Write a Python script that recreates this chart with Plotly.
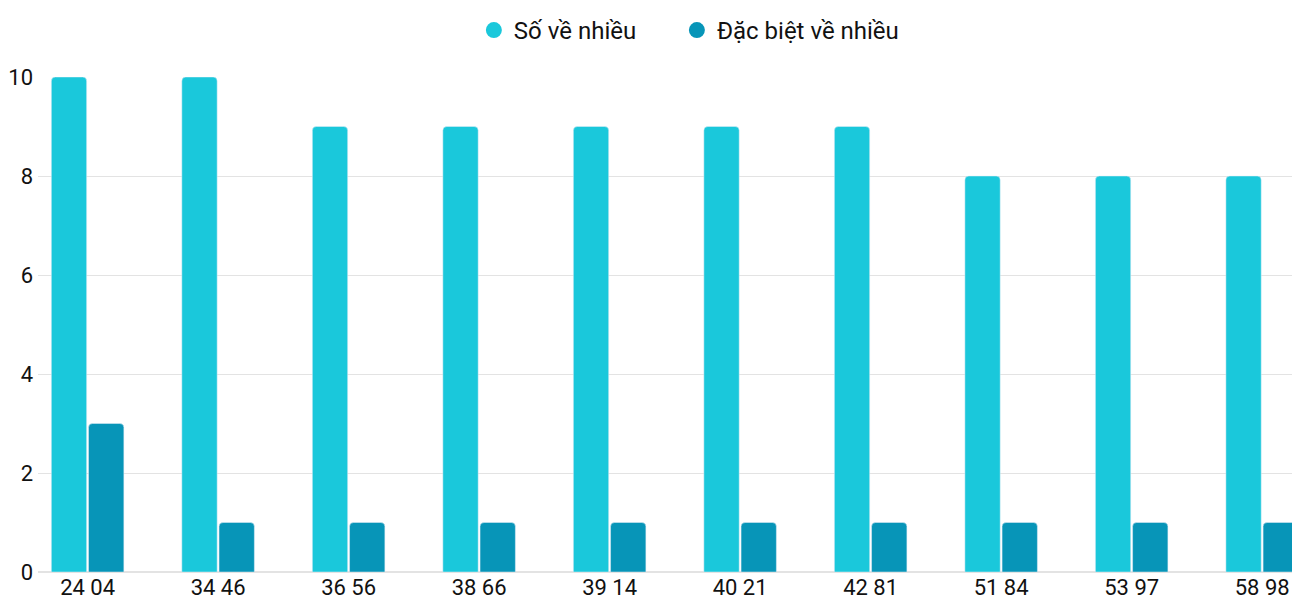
import plotly.graph_objects as go

categories = ["24 04","34 46","36 56","38 66","39 14","40 21","42 81","51 84","53 97","58 98"]
so_ve_nhieu = [10,10,9,9,9,9,9,8,8,8]
dac_biet = [3,1,1,1,1,1,1,1,1,1]
c1, c2 = "#1ac8db", "#0795b8"

fig = go.Figure()
fig.add_bar(x=categories, y=so_ve_nhieu, name="Số về nhiều", marker_color=c1, showlegend=False)
fig.add_bar(x=categories, y=dac_biet, name="Đặc biệt về nhiều", marker_color=c2, showlegend=False)
for n, c in [("Số về nhiều", c1), ("Đặc biệt về nhiều", c2)]:
    fig.add_scatter(x=[None], y=[None], mode="markers", name=n + "      ",
                    marker=dict(symbol="circle", size=28, color=c))
fig.update_layout(
    width=1292, height=592, plot_bgcolor="white", paper_bgcolor="white",
    font=dict(family="Roboto", size=22, color="#111"),
    margin=dict(l=28, r=0, t=69, b=26),
    barmode="group", bargap=0.43, bargroupgap=0.05, barcornerradius=4,
    legend=dict(orientation="h", x=0.53, xanchor="center", y=1.0, yanchor="top",
                yref="container", font=dict(size=24), itemsizing="trace"),
    xaxis=dict(range=[-0.38, 9.29], showgrid=False, showline=False, ticks=""),
    yaxis=dict(range=[0, 10], dtick=2, gridcolor="#e3e3e3", zeroline=True,
               zerolinecolor="#e3e3e3", ticks="", ticklabelstandoff=4),
)
fig.write_html("out.html")
